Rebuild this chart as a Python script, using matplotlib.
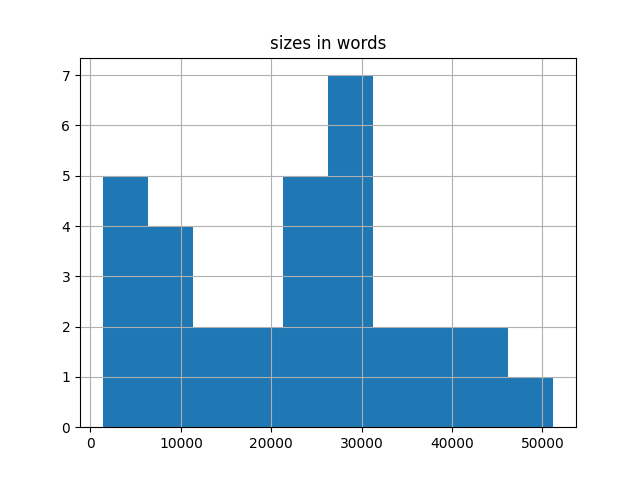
import matplotlib
matplotlib.use("Agg")
import matplotlib.pyplot as plt
import numpy as np

# Histogram of sizes in words: bin edges and counts
bin_edges = [1333, 6322, 11311, 16300, 21289, 26278, 31267, 36256, 41245, 46234, 51222]
counts = [5, 4, 2, 2, 5, 7, 2, 2, 2, 1]
title = "sizes in words"

fig, ax = plt.subplots(figsize=(6.4, 4.8), dpi=100)
ax.hist(bin_edges[:-1], bins=bin_edges, weights=counts, color="#1f77b4")
ax.grid(True)
ax.set_title(title)
fig.savefig("out.png", dpi=100)
